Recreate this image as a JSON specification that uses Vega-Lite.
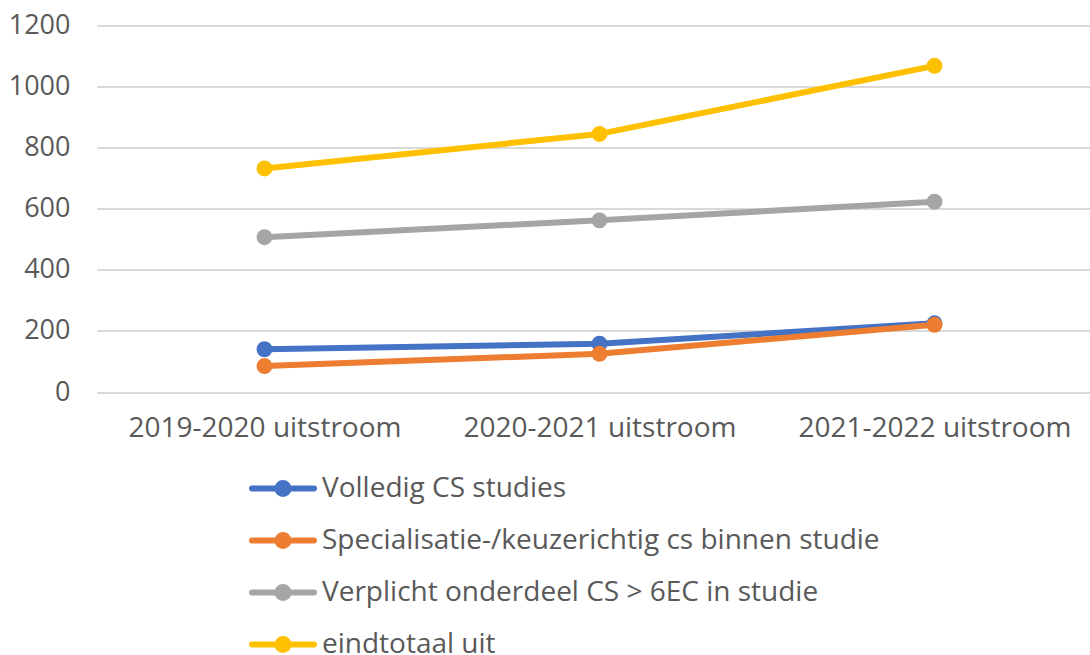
{
  "$schema": "https://vega.github.io/schema/vega-lite/v6.json",
  "width": 1005,
  "height": 366.5,
  "autosize": {"type": "none"},
  "padding": {"left": 97, "top": 25.5, "right": -12, "bottom": 263},
  "background": "white",
  "config": {
    "view": {"stroke": null},
    "font": "Open Sans",
    "axis": {"labelFont": "Open Sans", "labelColor": "#595959", "labelFontSize": 27, "labelLimit": 2000}
  },
  "data": {
    "values": [
      {"series": "Volledig CS studies", "cat": "2019-2020 uitstroom", "value": 140},
      {"series": "Volledig CS studies", "cat": "2020-2021 uitstroom", "value": 158},
      {"series": "Volledig CS studies", "cat": "2021-2022 uitstroom", "value": 225},
      {"series": "Specialisatie-/keuzerichtig cs binnen studie", "cat": "2019-2020 uitstroom", "value": 85},
      {"series": "Specialisatie-/keuzerichtig cs binnen studie", "cat": "2020-2021 uitstroom", "value": 125},
      {"series": "Specialisatie-/keuzerichtig cs binnen studie", "cat": "2021-2022 uitstroom", "value": 220},
      {"series": "Verplicht onderdeel CS > 6EC in studie", "cat": "2019-2020 uitstroom", "value": 507},
      {"series": "Verplicht onderdeel CS > 6EC in studie", "cat": "2020-2021 uitstroom", "value": 562},
      {"series": "Verplicht onderdeel CS > 6EC in studie", "cat": "2021-2022 uitstroom", "value": 623},
      {"series": "eindtotaal uit", "cat": "2019-2020 uitstroom", "value": 732},
      {"series": "eindtotaal uit", "cat": "2020-2021 uitstroom", "value": 845},
      {"series": "eindtotaal uit", "cat": "2021-2022 uitstroom", "value": 1068}
    ]
  },
  "encoding": {
    "x": {
      "field": "cat", "type": "ordinal", "sort": null,
      "scale": {"type": "point", "padding": 0.5},
      "axis": {"title": null, "labelAngle": 0, "ticks": false, "domain": false, "labelPadding": 22, "labelFontSize": 28, "grid": false}
    },
    "y": {
      "field": "value", "type": "quantitative",
      "scale": {"domain": [0, 1200], "nice": false, "zero": true},
      "axis": {"title": null, "values": [0, 200, 400, 600, 800, 1000, 1200], "format": "d", "domain": false, "ticks": false, "labelPadding": 27, "gridColor": "#d9d9d9", "gridWidth": 2}
    },
    "color": {
      "field": "series", "type": "nominal",
      "sort": ["Volledig CS studies", "Specialisatie-/keuzerichtig cs binnen studie", "Verplicht onderdeel CS > 6EC in studie", "eindtotaal uit"],
      "scale": {
        "domain": ["Volledig CS studies", "Specialisatie-/keuzerichtig cs binnen studie", "Verplicht onderdeel CS > 6EC in studie", "eindtotaal uit"],
        "range": ["#4472C4", "#ED7D31", "#A5A5A5", "#FFC000"]
      },
      "legend": {
        "title": null,
        "orient": "none",
        "direction": "vertical",
        "legendX": 172,
        "legendY": 449,
        "padding": 0,
        "labelFont": "Open Sans",
        "labelFontSize": 28,
        "labelColor": "#595959",
        "labelLimit": 2000,
        "labelOffset": 25,
        "rowPadding": 16,
        "symbolSize": 256,
        "symbolStrokeWidth": 6,
        "symbolType": "M-3.875,0H3.875M-0.69,0A0.69,0.69,0,1,1,0.69,0A0.69,0.69,0,1,1,-0.69,0Z",
        "encode": {
          "symbols": {
            "update": {
              "fill": {"scale": "color", "field": "value"},
              "stroke": {"scale": "color", "field": "value"},
              "strokeCap": {"value": "round"},
              "opacity": {"value": 1}
            }
          }
        }
      }
    }
  },
  "layer": [
    {"mark": {"type": "line", "strokeWidth": 6, "strokeCap": "round", "strokeJoin": "round"}},
    {"mark": {"type": "point", "filled": true, "size": 254, "opacity": 1}}
  ]
}
